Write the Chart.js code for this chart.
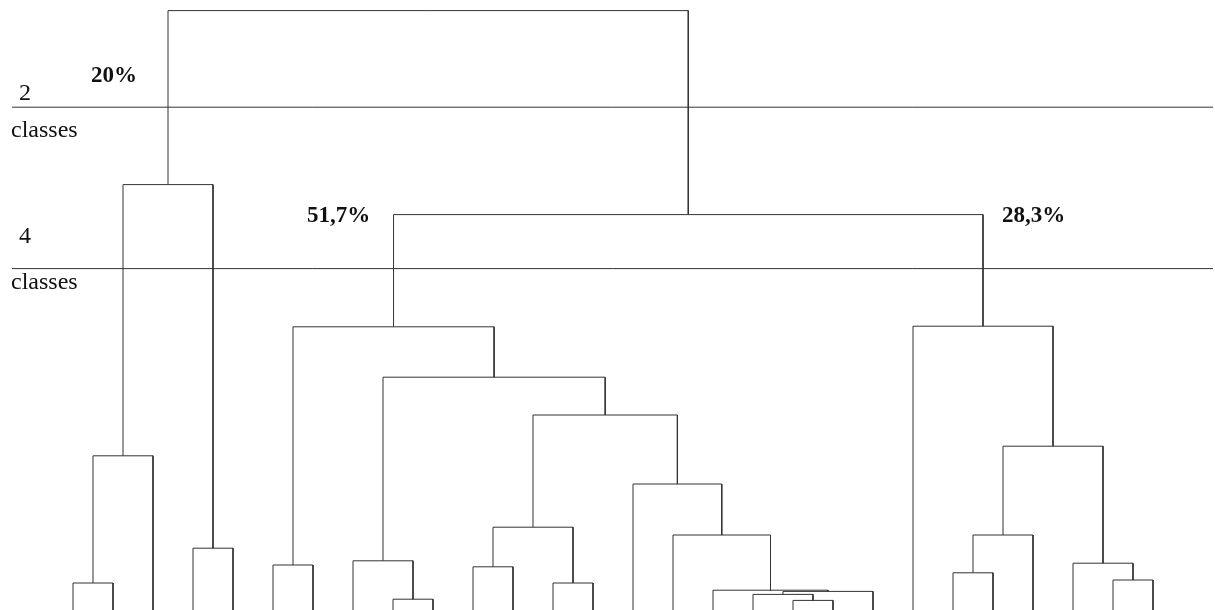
<!DOCTYPE html>
<html>
<head>
<meta charset="utf-8">
<script src="https://cdn.jsdelivr.net/npm/chart.js@4/dist/chart.umd.min.js"></script>
<style>
html, body { margin: 0; padding: 0; background: #fff; }
</style>
</head>
<body>
<canvas id="myChart" width="1215" height="610"></canvas>
<script>
// merges, hclust style: negative = leaf number (1-based), positive = earlier merge row (1-based)
var leafCount = 28;
var mergeLeft  = [-1, 1, -4, 2, -6, -9, -8, -11, -13, 8, -19, -18, 12, -17, -16, -15, 10, 7, 5, -23, 20, -27, -26, 21, -22, 19, 4];
var mergeRight = [-2, -3, -5, 3, -7, -10, 6, -12, -14, 9, -20, 11, -21, 13, 14, 15, 16, 17, 18, -24, -25, -28, 22, 23, 24, 25, 26];
var mergeHeight = [4.5, 25.7, 10.3, 70.9, 7.5, 1.8, 8.2, 7.2, 4.5, 13.8, 1.6, 2.6, 3.1, 3.3, 12.5, 21, 32.5, 38.8, 47.2, 6.2, 12.5, 5, 7.8, 27.3, 47.3, 65.9, 99.9];

// cut levels and their labels
var cutHeights = [83.8, 56.9];
var cutLabels = ['2', '4'];
var classShares = ['20%', '51,7%', '28,3%'];

var lineColor = '#333';

// position of each node: leaves at their index, merges at the mean of their children
var nodeX = [];
function childX(c) { return c < 0 ? (-c - 1) : nodeX[c - 1]; }
function childH(c) { return c < 0 ? 0 : mergeHeight[c - 1]; }

var datasets = [];
for (var i = 0; i < mergeHeight.length; i++) {
    var xl = childX(mergeLeft[i]);
    var xr = childX(mergeRight[i]);
    nodeX.push((xl + xr) / 2);
    datasets.push({
        data: [
            {x: xl, y: childH(mergeLeft[i])},
            {x: xl, y: mergeHeight[i]},
            {x: xr, y: mergeHeight[i]},
            {x: xr, y: childH(mergeRight[i])}
        ],
        showLine: true,
        borderColor: lineColor,
        borderWidth: 1,
        pointRadius: 0,
        fill: false,
        tension: 0
    });
}

// horizontal cut lines across the tree
for (var j = 0; j < cutHeights.length; j++) {
    datasets.push({
        data: [{x: -1.525, y: cutHeights[j]}, {x: 28.5, y: cutHeights[j]}],
        showLine: true,
        borderColor: lineColor,
        borderWidth: 1,
        pointRadius: 0,
        fill: false
    });
}

// text labels drawn on top
var textPlugin = {
    id: 'texts',
    afterDraw: function(chart) {
        var ctx = chart.ctx;
        var ys = chart.scales.y;
        ctx.save();
        ctx.fillStyle = '#111';
        ctx.textBaseline = 'alphabetic';
        ctx.textAlign = 'left';

        ctx.font = '24px "Liberation Serif", serif';
        var cut1 = ys.getPixelForValue(cutHeights[0]);
        var cut2 = ys.getPixelForValue(cutHeights[1]);
        ctx.fillText(cutLabels[0], 19, cut1 - 7);
        ctx.fillText('classes', 11, cut1 + 30);
        ctx.fillText(cutLabels[1], 19, cut2 - 26);
        ctx.fillText('classes', 11, cut2 + 20);

        ctx.font = 'bold 23px "Liberation Serif", serif';
        ctx.fillText(classShares[0], 91, 82);
        ctx.fillText(classShares[1], 307, 222);
        ctx.fillText(classShares[2], 1002, 222);
        ctx.restore();
    }
};

var ctx = document.getElementById("myChart").getContext('2d');
var myChart = new Chart(ctx, {
    type: 'scatter',
    data: { datasets: datasets },
    options: {
        responsive: false,
        animation: false,
        layout: { padding: 0 },
        plugins: {
            legend: { display: false },
            tooltip: { enabled: false }
        },
        scales: {
            x: { type: 'linear', display: false, min: -1.825, max: 28.55 },
            y: { type: 'linear', display: false, min: 0, max: 610 / 6 }
        }
    },
    plugins: [textPlugin]
});
</script>
</body>
</html>
